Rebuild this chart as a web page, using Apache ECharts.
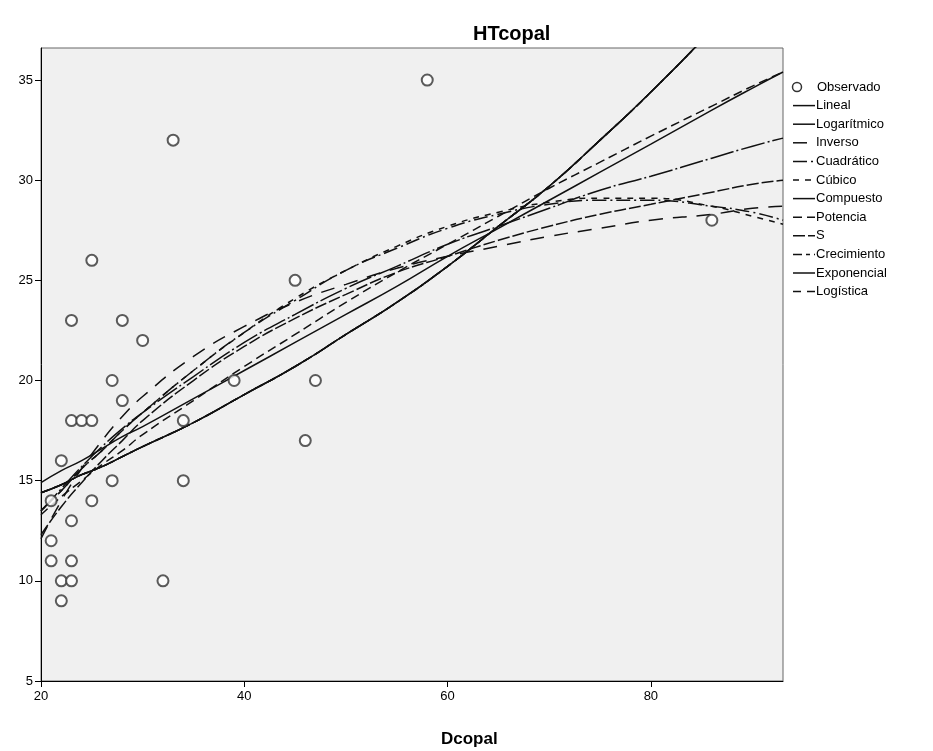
<!DOCTYPE html>
<html>
<head>
<meta charset="utf-8">
<script src="https://cdn.jsdelivr.net/npm/echarts@6/dist/echarts.min.js"></script>
<style>
  body { margin: 0; background: #fff; }
  #chart { width: 933px; height: 751px; }
</style>
</head>
<body>
<div id="chart"></div>
<script>
// puntos observados (Dcopal, HTcopal)
var obsX = [58, 33, 25, 23, 28, 30, 27, 39, 47, 28, 23, 24, 25, 34, 45, 22, 27, 34, 46, 21, 25, 23, 21, 21, 23, 22, 23, 32, 22, 86];
var obsY = [35, 32, 26, 23, 23, 22, 20, 20, 20, 19, 18, 18, 18, 18, 25, 16, 15, 15, 17, 14, 14, 13, 12, 11, 11, 10, 10, 10, 9, 28];

// abscisas donde se leen las curvas
var curveX = [20, 22, 24, 26, 28, 30, 35, 40, 45, 50, 55, 60, 65, 70, 75, 80, 86, 90, 93];

var lineal      = [14.9, 15.5, 16.0, 16.6, 17.2, 17.7, 19.1, 20.5, 21.9, 23.3, 24.7, 26.2, 27.6, 29.0, 30.4, 31.8, 33.5, 34.6, 35.4];
var logaritmico = [13.5, 14.6, 15.7, 16.7, 17.6, 18.4, 20.2, 21.9, 23.3, 24.6, 25.7, 26.8, 27.7, 28.6, 29.5, 30.2, 31.1, 31.7, 32.1];
var inverso     = [12.1, 14.0, 15.6, 17.0, 18.2, 19.2, 21.2, 22.7, 23.9, 24.8, 25.6, 26.2, 26.7, 27.2, 27.6, 28.0, 28.3, 28.6, 28.7];
var cuadratico  = [13.5, 14.5, 15.6, 16.5, 17.5, 18.4, 20.5, 22.4, 24.0, 25.5, 26.6, 27.6, 28.3, 28.8, 29.0, 29.0, 28.7, 28.4, 28.0];
var cubico      = [13.5, 14.5, 15.6, 16.5, 17.5, 18.4, 20.5, 22.4, 24.1, 25.5, 26.7, 27.7, 28.4, 28.9, 29.1, 29.1, 28.7, 28.2, 27.8];
var compuesto   = [14.4, 14.8, 15.3, 15.7, 16.2, 16.7, 17.9, 19.3, 20.7, 22.3, 23.9, 25.7, 27.7, 29.7, 32.0, 34.4, 37.5, 39.7, 41.5];
var potencia    = [13.3, 14.2, 15.0, 15.8, 16.5, 17.3, 19.0, 20.7, 22.3, 23.9, 25.4, 26.8, 28.2, 29.6, 30.9, 32.2, 33.7, 34.7, 35.4];
var curvaS      = [12.3, 13.7, 14.9, 16.0, 17.0, 18.0, 20.0, 21.7, 23.1, 24.3, 25.4, 26.2, 27.0, 27.7, 28.3, 28.8, 29.4, 29.8, 30.0];
// crecimiento, exponencial y logistica coinciden con el compuesto
var crecimiento = compuesto;
var exponencial = compuesto;
var logistica   = compuesto;

var xTicks = [20, 40, 60, 80];
var yTicks = [5, 10, 15, 20, 25, 30, 35];

var FONT = 'Liberation Sans, Arial, sans-serif';

function pares(xs, ys) {
  return xs.map(function (x, i) { return [x, ys[i]]; });
}

var curvas = [
  { name: 'Lineal',      data: lineal,      dash: null },
  { name: 'Logarítmico', data: logaritmico, dash: [24, 3, 2, 3] },
  { name: 'Inverso',     data: inverso,     dash: [14, 10] },
  { name: 'Cuadrático',  data: cuadratico,  dash: [14, 4, 2, 4] },
  { name: 'Cúbico',      data: cubico,      dash: [6, 6] },
  { name: 'Compuesto',   data: compuesto,   dash: [28, 2, 2, 2] },
  { name: 'Potencia',    data: potencia,    dash: [9, 5] },
  { name: 'S',           data: curvaS,      dash: [12, 3] },
  { name: 'Crecimiento', data: crecimiento, dash: [9, 4, 4, 4] },
  { name: 'Exponencial', data: exponencial, dash: null },
  { name: 'Logística',   data: logistica,   dash: [8, 6] }
];

var series = [{
  name: 'Observado',
  type: 'scatter',
  data: pares(obsX, obsY),
  symbol: 'emptyCircle',
  symbolSize: 11,
  itemStyle: { color: '#333', borderColor: '#333', borderWidth: 1.5 },
  z: 5
}];

curvas.forEach(function (c) {
  series.push({
    name: c.name,
    type: 'line',
    data: pares(curveX, c.data),
    smooth: true,
    showSymbol: false,
    symbol: 'none',
    clip: true,
    lineStyle: { color: '#111', width: 1.5, type: c.dash || 'solid' }
  });
});

// leyenda a mano, como en SPSS
var legendItems = [];
var ly0 = 87, lstep = 18.6;
legendItems.push({
  type: 'circle',
  shape: { cx: 797, cy: ly0, r: 4.5 },
  style: { fill: 'none', stroke: '#333', lineWidth: 1.5 }
});
legendItems.push({
  type: 'text', x: 817, y: ly0,
  style: { text: 'Observado', font: '13px ' + FONT, fill: '#000', textVerticalAlign: 'middle' }
});
curvas.forEach(function (c, i) {
  var y = ly0 + (i + 1) * lstep;
  legendItems.push({
    type: 'line',
    shape: { x1: 793, y1: y, x2: 815, y2: y },
    style: { stroke: '#111', lineWidth: 1.5, lineDash: c.dash || null }
  });
  legendItems.push({
    type: 'text', x: 816, y: y,
    style: { text: c.name, font: '13px ' + FONT, fill: '#000', textVerticalAlign: 'middle' }
  });
});
legendItems.push({
  type: 'text', x: 441, y: 731,
  style: { text: 'Dcopal', font: 'bold 17px ' + FONT, fill: '#000' }
});

var chart = echarts.init(document.getElementById('chart'));
chart.setOption({
  animation: false,
  title: {
    text: 'HTcopal',
    left: 468,
    top: 19,
    textStyle: { fontFamily: FONT, fontWeight: 'bold', fontSize: 20, color: '#000' }
  },
  grid: {
    left: 41, right: 150, top: 48, bottom: 70,
    show: true,
    backgroundColor: '#f0f0f0',
    borderColor: '#666',
    borderWidth: 1
  },
  xAxis: {
    type: 'value',
    min: 20,
    max: 93,
    interval: 20,
    axisLine: { lineStyle: { color: '#000', width: 1 } },
    axisTick: { length: 6, lineStyle: { color: '#000' } },
    axisLabel: {
      showMaxLabel: false,
      color: '#000',
      fontFamily: FONT,
      fontSize: 13,
      margin: 9,
      formatter: function (v) { return xTicks.indexOf(v) >= 0 ? String(v) : ''; }
    },
    splitLine: { show: false }
  },
  yAxis: {
    type: 'value',
    min: 5,
    max: 36.6,
    interval: 5,
    axisLine: { show: true, lineStyle: { color: '#000', width: 1 } },
    axisTick: { show: true, length: 6, lineStyle: { color: '#000' } },
    axisLabel: {
      showMaxLabel: false,
      color: '#000',
      fontFamily: FONT,
      fontSize: 13,
      margin: 8,
      formatter: function (v) { return yTicks.indexOf(v) >= 0 ? String(v) : ''; }
    },
    splitLine: { show: false }
  },
  graphic: legendItems,
  series: series
});
</script>
</body>
</html>
